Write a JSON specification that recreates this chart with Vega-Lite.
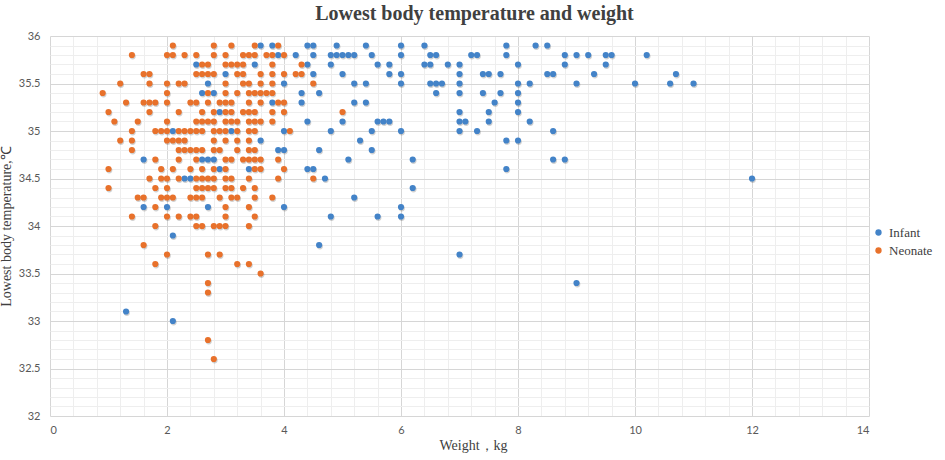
{
  "$schema": "https://vega.github.io/schema/vega-lite/v6.json",
  "description": "Lowest body temperature and weight",
  "autosize": "none",
  "width": 819,
  "height": 380,
  "padding": {"left": 50, "top": 36, "right": 76, "bottom": 44},
  "background": "white",
  "title": {
    "text": "Lowest body temperature and weight",
    "font": "Liberation Serif",
    "fontSize": 20,
    "fontWeight": "bold",
    "color": "#404040",
    "anchor": "middle",
    "dx": 15,
    "offset": 6
  },
  "datasets": {
    "points": [
      {"weight": 3.6, "temp": 35.9, "group": "Infant"},
      {"weight": 3.8, "temp": 35.9, "group": "Infant"},
      {"weight": 4.4, "temp": 35.9, "group": "Infant"},
      {"weight": 4.5, "temp": 35.9, "group": "Infant"},
      {"weight": 4.9, "temp": 35.9, "group": "Infant"},
      {"weight": 5.4, "temp": 35.9, "group": "Infant"},
      {"weight": 6.0, "temp": 35.9, "group": "Infant"},
      {"weight": 6.4, "temp": 35.9, "group": "Infant"},
      {"weight": 7.8, "temp": 35.9, "group": "Infant"},
      {"weight": 8.3, "temp": 35.9, "group": "Infant"},
      {"weight": 8.5, "temp": 35.9, "group": "Infant"},
      {"weight": 3.9, "temp": 35.8, "group": "Infant"},
      {"weight": 4.2, "temp": 35.8, "group": "Infant"},
      {"weight": 4.5, "temp": 35.8, "group": "Infant"},
      {"weight": 4.8, "temp": 35.8, "group": "Infant"},
      {"weight": 4.9, "temp": 35.8, "group": "Infant"},
      {"weight": 5.0, "temp": 35.8, "group": "Infant"},
      {"weight": 5.1, "temp": 35.8, "group": "Infant"},
      {"weight": 5.2, "temp": 35.8, "group": "Infant"},
      {"weight": 5.5, "temp": 35.8, "group": "Infant"},
      {"weight": 6.0, "temp": 35.8, "group": "Infant"},
      {"weight": 6.5, "temp": 35.8, "group": "Infant"},
      {"weight": 6.6, "temp": 35.8, "group": "Infant"},
      {"weight": 7.2, "temp": 35.8, "group": "Infant"},
      {"weight": 7.3, "temp": 35.8, "group": "Infant"},
      {"weight": 7.8, "temp": 35.8, "group": "Infant"},
      {"weight": 8.8, "temp": 35.8, "group": "Infant"},
      {"weight": 9.0, "temp": 35.8, "group": "Infant"},
      {"weight": 9.2, "temp": 35.8, "group": "Infant"},
      {"weight": 9.5, "temp": 35.8, "group": "Infant"},
      {"weight": 9.6, "temp": 35.8, "group": "Infant"},
      {"weight": 10.2, "temp": 35.8, "group": "Infant"},
      {"weight": 2.5, "temp": 35.7, "group": "Infant"},
      {"weight": 3.5, "temp": 35.7, "group": "Infant"},
      {"weight": 4.4, "temp": 35.7, "group": "Infant"},
      {"weight": 4.8, "temp": 35.7, "group": "Infant"},
      {"weight": 5.6, "temp": 35.7, "group": "Infant"},
      {"weight": 5.8, "temp": 35.7, "group": "Infant"},
      {"weight": 6.4, "temp": 35.7, "group": "Infant"},
      {"weight": 6.5, "temp": 35.7, "group": "Infant"},
      {"weight": 6.8, "temp": 35.7, "group": "Infant"},
      {"weight": 7.0, "temp": 35.7, "group": "Infant"},
      {"weight": 8.0, "temp": 35.7, "group": "Infant"},
      {"weight": 8.8, "temp": 35.7, "group": "Infant"},
      {"weight": 9.5, "temp": 35.7, "group": "Infant"},
      {"weight": 3.0, "temp": 35.6, "group": "Infant"},
      {"weight": 4.5, "temp": 35.6, "group": "Infant"},
      {"weight": 5.0, "temp": 35.6, "group": "Infant"},
      {"weight": 5.8, "temp": 35.6, "group": "Infant"},
      {"weight": 6.0, "temp": 35.6, "group": "Infant"},
      {"weight": 7.0, "temp": 35.6, "group": "Infant"},
      {"weight": 7.4, "temp": 35.6, "group": "Infant"},
      {"weight": 7.5, "temp": 35.6, "group": "Infant"},
      {"weight": 7.7, "temp": 35.6, "group": "Infant"},
      {"weight": 8.5, "temp": 35.6, "group": "Infant"},
      {"weight": 8.6, "temp": 35.6, "group": "Infant"},
      {"weight": 9.3, "temp": 35.6, "group": "Infant"},
      {"weight": 10.7, "temp": 35.6, "group": "Infant"},
      {"weight": 2.7, "temp": 35.5, "group": "Infant"},
      {"weight": 4.0, "temp": 35.5, "group": "Infant"},
      {"weight": 5.2, "temp": 35.5, "group": "Infant"},
      {"weight": 5.4, "temp": 35.5, "group": "Infant"},
      {"weight": 6.0, "temp": 35.5, "group": "Infant"},
      {"weight": 6.5, "temp": 35.5, "group": "Infant"},
      {"weight": 6.6, "temp": 35.5, "group": "Infant"},
      {"weight": 6.7, "temp": 35.5, "group": "Infant"},
      {"weight": 7.0, "temp": 35.5, "group": "Infant"},
      {"weight": 8.0, "temp": 35.5, "group": "Infant"},
      {"weight": 8.2, "temp": 35.5, "group": "Infant"},
      {"weight": 9.0, "temp": 35.5, "group": "Infant"},
      {"weight": 10.0, "temp": 35.5, "group": "Infant"},
      {"weight": 10.6, "temp": 35.5, "group": "Infant"},
      {"weight": 11.0, "temp": 35.5, "group": "Infant"},
      {"weight": 2.6, "temp": 35.4, "group": "Infant"},
      {"weight": 2.8, "temp": 35.4, "group": "Infant"},
      {"weight": 4.3, "temp": 35.4, "group": "Infant"},
      {"weight": 4.6, "temp": 35.4, "group": "Infant"},
      {"weight": 6.6, "temp": 35.4, "group": "Infant"},
      {"weight": 7.0, "temp": 35.4, "group": "Infant"},
      {"weight": 7.4, "temp": 35.4, "group": "Infant"},
      {"weight": 7.7, "temp": 35.4, "group": "Infant"},
      {"weight": 8.0, "temp": 35.4, "group": "Infant"},
      {"weight": 3.8, "temp": 35.3, "group": "Infant"},
      {"weight": 4.3, "temp": 35.3, "group": "Infant"},
      {"weight": 5.2, "temp": 35.3, "group": "Infant"},
      {"weight": 5.4, "temp": 35.3, "group": "Infant"},
      {"weight": 7.6, "temp": 35.3, "group": "Infant"},
      {"weight": 8.0, "temp": 35.3, "group": "Infant"},
      {"weight": 2.9, "temp": 35.2, "group": "Infant"},
      {"weight": 7.0, "temp": 35.2, "group": "Infant"},
      {"weight": 7.5, "temp": 35.2, "group": "Infant"},
      {"weight": 8.0, "temp": 35.2, "group": "Infant"},
      {"weight": 4.4, "temp": 35.1, "group": "Infant"},
      {"weight": 5.0, "temp": 35.1, "group": "Infant"},
      {"weight": 5.6, "temp": 35.1, "group": "Infant"},
      {"weight": 5.7, "temp": 35.1, "group": "Infant"},
      {"weight": 5.8, "temp": 35.1, "group": "Infant"},
      {"weight": 7.0, "temp": 35.1, "group": "Infant"},
      {"weight": 7.1, "temp": 35.1, "group": "Infant"},
      {"weight": 7.5, "temp": 35.1, "group": "Infant"},
      {"weight": 8.2, "temp": 35.1, "group": "Infant"},
      {"weight": 2.1, "temp": 35.0, "group": "Infant"},
      {"weight": 3.1, "temp": 35.0, "group": "Infant"},
      {"weight": 4.0, "temp": 35.0, "group": "Infant"},
      {"weight": 4.8, "temp": 35.0, "group": "Infant"},
      {"weight": 5.5, "temp": 35.0, "group": "Infant"},
      {"weight": 6.0, "temp": 35.0, "group": "Infant"},
      {"weight": 7.0, "temp": 35.0, "group": "Infant"},
      {"weight": 7.3, "temp": 35.0, "group": "Infant"},
      {"weight": 8.6, "temp": 35.0, "group": "Infant"},
      {"weight": 3.6, "temp": 34.9, "group": "Infant"},
      {"weight": 5.3, "temp": 34.9, "group": "Infant"},
      {"weight": 7.8, "temp": 34.9, "group": "Infant"},
      {"weight": 8.0, "temp": 34.9, "group": "Infant"},
      {"weight": 3.9, "temp": 34.8, "group": "Infant"},
      {"weight": 4.0, "temp": 34.8, "group": "Infant"},
      {"weight": 4.6, "temp": 34.8, "group": "Infant"},
      {"weight": 5.5, "temp": 34.8, "group": "Infant"},
      {"weight": 1.6, "temp": 34.7, "group": "Infant"},
      {"weight": 2.6, "temp": 34.7, "group": "Infant"},
      {"weight": 2.7, "temp": 34.7, "group": "Infant"},
      {"weight": 2.8, "temp": 34.7, "group": "Infant"},
      {"weight": 5.1, "temp": 34.7, "group": "Infant"},
      {"weight": 6.2, "temp": 34.7, "group": "Infant"},
      {"weight": 8.6, "temp": 34.7, "group": "Infant"},
      {"weight": 8.8, "temp": 34.7, "group": "Infant"},
      {"weight": 2.9, "temp": 34.6, "group": "Infant"},
      {"weight": 3.4, "temp": 34.6, "group": "Infant"},
      {"weight": 4.4, "temp": 34.6, "group": "Infant"},
      {"weight": 4.5, "temp": 34.6, "group": "Infant"},
      {"weight": 7.8, "temp": 34.6, "group": "Infant"},
      {"weight": 2.3, "temp": 34.5, "group": "Infant"},
      {"weight": 2.4, "temp": 34.5, "group": "Infant"},
      {"weight": 4.7, "temp": 34.5, "group": "Infant"},
      {"weight": 12.0, "temp": 34.5, "group": "Infant"},
      {"weight": 6.2, "temp": 34.4, "group": "Infant"},
      {"weight": 5.2, "temp": 34.3, "group": "Infant"},
      {"weight": 1.6, "temp": 34.2, "group": "Infant"},
      {"weight": 2.0, "temp": 34.2, "group": "Infant"},
      {"weight": 2.7, "temp": 34.2, "group": "Infant"},
      {"weight": 4.0, "temp": 34.2, "group": "Infant"},
      {"weight": 6.0, "temp": 34.2, "group": "Infant"},
      {"weight": 4.8, "temp": 34.1, "group": "Infant"},
      {"weight": 5.6, "temp": 34.1, "group": "Infant"},
      {"weight": 6.0, "temp": 34.1, "group": "Infant"},
      {"weight": 2.1, "temp": 33.9, "group": "Infant"},
      {"weight": 4.6, "temp": 33.8, "group": "Infant"},
      {"weight": 7.0, "temp": 33.7, "group": "Infant"},
      {"weight": 9.0, "temp": 33.4, "group": "Infant"},
      {"weight": 1.3, "temp": 33.1, "group": "Infant"},
      {"weight": 2.1, "temp": 33.0, "group": "Infant"},
      {"weight": 2.1, "temp": 35.9, "group": "Neonate"},
      {"weight": 2.8, "temp": 35.9, "group": "Neonate"},
      {"weight": 3.1, "temp": 35.9, "group": "Neonate"},
      {"weight": 3.5, "temp": 35.9, "group": "Neonate"},
      {"weight": 3.9, "temp": 35.9, "group": "Neonate"},
      {"weight": 1.4, "temp": 35.8, "group": "Neonate"},
      {"weight": 2.0, "temp": 35.8, "group": "Neonate"},
      {"weight": 2.1, "temp": 35.8, "group": "Neonate"},
      {"weight": 2.3, "temp": 35.8, "group": "Neonate"},
      {"weight": 2.5, "temp": 35.8, "group": "Neonate"},
      {"weight": 2.8, "temp": 35.8, "group": "Neonate"},
      {"weight": 3.0, "temp": 35.8, "group": "Neonate"},
      {"weight": 3.3, "temp": 35.8, "group": "Neonate"},
      {"weight": 3.4, "temp": 35.8, "group": "Neonate"},
      {"weight": 3.5, "temp": 35.8, "group": "Neonate"},
      {"weight": 3.7, "temp": 35.8, "group": "Neonate"},
      {"weight": 3.8, "temp": 35.8, "group": "Neonate"},
      {"weight": 4.0, "temp": 35.8, "group": "Neonate"},
      {"weight": 2.6, "temp": 35.7, "group": "Neonate"},
      {"weight": 2.7, "temp": 35.7, "group": "Neonate"},
      {"weight": 3.0, "temp": 35.7, "group": "Neonate"},
      {"weight": 3.1, "temp": 35.7, "group": "Neonate"},
      {"weight": 3.2, "temp": 35.7, "group": "Neonate"},
      {"weight": 3.3, "temp": 35.7, "group": "Neonate"},
      {"weight": 3.8, "temp": 35.7, "group": "Neonate"},
      {"weight": 4.3, "temp": 35.7, "group": "Neonate"},
      {"weight": 1.6, "temp": 35.6, "group": "Neonate"},
      {"weight": 1.7, "temp": 35.6, "group": "Neonate"},
      {"weight": 2.5, "temp": 35.6, "group": "Neonate"},
      {"weight": 2.6, "temp": 35.6, "group": "Neonate"},
      {"weight": 2.7, "temp": 35.6, "group": "Neonate"},
      {"weight": 2.8, "temp": 35.6, "group": "Neonate"},
      {"weight": 3.2, "temp": 35.6, "group": "Neonate"},
      {"weight": 3.3, "temp": 35.6, "group": "Neonate"},
      {"weight": 3.6, "temp": 35.6, "group": "Neonate"},
      {"weight": 3.8, "temp": 35.6, "group": "Neonate"},
      {"weight": 4.0, "temp": 35.6, "group": "Neonate"},
      {"weight": 4.2, "temp": 35.6, "group": "Neonate"},
      {"weight": 4.3, "temp": 35.6, "group": "Neonate"},
      {"weight": 1.2, "temp": 35.5, "group": "Neonate"},
      {"weight": 1.7, "temp": 35.5, "group": "Neonate"},
      {"weight": 2.0, "temp": 35.5, "group": "Neonate"},
      {"weight": 2.2, "temp": 35.5, "group": "Neonate"},
      {"weight": 2.3, "temp": 35.5, "group": "Neonate"},
      {"weight": 3.0, "temp": 35.5, "group": "Neonate"},
      {"weight": 3.3, "temp": 35.5, "group": "Neonate"},
      {"weight": 3.4, "temp": 35.5, "group": "Neonate"},
      {"weight": 3.6, "temp": 35.5, "group": "Neonate"},
      {"weight": 3.8, "temp": 35.5, "group": "Neonate"},
      {"weight": 4.5, "temp": 35.5, "group": "Neonate"},
      {"weight": 0.9, "temp": 35.4, "group": "Neonate"},
      {"weight": 2.0, "temp": 35.4, "group": "Neonate"},
      {"weight": 2.7, "temp": 35.4, "group": "Neonate"},
      {"weight": 3.0, "temp": 35.4, "group": "Neonate"},
      {"weight": 3.2, "temp": 35.4, "group": "Neonate"},
      {"weight": 3.4, "temp": 35.4, "group": "Neonate"},
      {"weight": 3.5, "temp": 35.4, "group": "Neonate"},
      {"weight": 3.6, "temp": 35.4, "group": "Neonate"},
      {"weight": 3.7, "temp": 35.4, "group": "Neonate"},
      {"weight": 3.8, "temp": 35.4, "group": "Neonate"},
      {"weight": 1.3, "temp": 35.3, "group": "Neonate"},
      {"weight": 1.6, "temp": 35.3, "group": "Neonate"},
      {"weight": 1.7, "temp": 35.3, "group": "Neonate"},
      {"weight": 1.8, "temp": 35.3, "group": "Neonate"},
      {"weight": 2.0, "temp": 35.3, "group": "Neonate"},
      {"weight": 2.4, "temp": 35.3, "group": "Neonate"},
      {"weight": 2.5, "temp": 35.3, "group": "Neonate"},
      {"weight": 2.7, "temp": 35.3, "group": "Neonate"},
      {"weight": 2.9, "temp": 35.3, "group": "Neonate"},
      {"weight": 3.0, "temp": 35.3, "group": "Neonate"},
      {"weight": 3.1, "temp": 35.3, "group": "Neonate"},
      {"weight": 3.4, "temp": 35.3, "group": "Neonate"},
      {"weight": 3.6, "temp": 35.3, "group": "Neonate"},
      {"weight": 3.9, "temp": 35.3, "group": "Neonate"},
      {"weight": 4.0, "temp": 35.3, "group": "Neonate"},
      {"weight": 1.0, "temp": 35.2, "group": "Neonate"},
      {"weight": 1.7, "temp": 35.2, "group": "Neonate"},
      {"weight": 2.2, "temp": 35.2, "group": "Neonate"},
      {"weight": 2.6, "temp": 35.2, "group": "Neonate"},
      {"weight": 2.8, "temp": 35.2, "group": "Neonate"},
      {"weight": 3.0, "temp": 35.2, "group": "Neonate"},
      {"weight": 3.1, "temp": 35.2, "group": "Neonate"},
      {"weight": 3.3, "temp": 35.2, "group": "Neonate"},
      {"weight": 3.4, "temp": 35.2, "group": "Neonate"},
      {"weight": 3.5, "temp": 35.2, "group": "Neonate"},
      {"weight": 3.8, "temp": 35.2, "group": "Neonate"},
      {"weight": 4.0, "temp": 35.2, "group": "Neonate"},
      {"weight": 5.0, "temp": 35.2, "group": "Neonate"},
      {"weight": 1.1, "temp": 35.1, "group": "Neonate"},
      {"weight": 1.5, "temp": 35.1, "group": "Neonate"},
      {"weight": 2.0, "temp": 35.1, "group": "Neonate"},
      {"weight": 2.5, "temp": 35.1, "group": "Neonate"},
      {"weight": 2.6, "temp": 35.1, "group": "Neonate"},
      {"weight": 2.7, "temp": 35.1, "group": "Neonate"},
      {"weight": 2.8, "temp": 35.1, "group": "Neonate"},
      {"weight": 3.0, "temp": 35.1, "group": "Neonate"},
      {"weight": 3.1, "temp": 35.1, "group": "Neonate"},
      {"weight": 3.2, "temp": 35.1, "group": "Neonate"},
      {"weight": 3.4, "temp": 35.1, "group": "Neonate"},
      {"weight": 3.5, "temp": 35.1, "group": "Neonate"},
      {"weight": 3.6, "temp": 35.1, "group": "Neonate"},
      {"weight": 3.8, "temp": 35.1, "group": "Neonate"},
      {"weight": 1.4, "temp": 35.0, "group": "Neonate"},
      {"weight": 1.8, "temp": 35.0, "group": "Neonate"},
      {"weight": 1.9, "temp": 35.0, "group": "Neonate"},
      {"weight": 2.0, "temp": 35.0, "group": "Neonate"},
      {"weight": 2.2, "temp": 35.0, "group": "Neonate"},
      {"weight": 2.3, "temp": 35.0, "group": "Neonate"},
      {"weight": 2.4, "temp": 35.0, "group": "Neonate"},
      {"weight": 2.5, "temp": 35.0, "group": "Neonate"},
      {"weight": 2.6, "temp": 35.0, "group": "Neonate"},
      {"weight": 2.8, "temp": 35.0, "group": "Neonate"},
      {"weight": 2.9, "temp": 35.0, "group": "Neonate"},
      {"weight": 3.0, "temp": 35.0, "group": "Neonate"},
      {"weight": 3.2, "temp": 35.0, "group": "Neonate"},
      {"weight": 3.4, "temp": 35.0, "group": "Neonate"},
      {"weight": 3.5, "temp": 35.0, "group": "Neonate"},
      {"weight": 4.1, "temp": 35.0, "group": "Neonate"},
      {"weight": 1.2, "temp": 34.9, "group": "Neonate"},
      {"weight": 1.4, "temp": 34.9, "group": "Neonate"},
      {"weight": 2.0, "temp": 34.9, "group": "Neonate"},
      {"weight": 2.1, "temp": 34.9, "group": "Neonate"},
      {"weight": 2.2, "temp": 34.9, "group": "Neonate"},
      {"weight": 2.3, "temp": 34.9, "group": "Neonate"},
      {"weight": 2.8, "temp": 34.9, "group": "Neonate"},
      {"weight": 3.0, "temp": 34.9, "group": "Neonate"},
      {"weight": 3.2, "temp": 34.9, "group": "Neonate"},
      {"weight": 3.4, "temp": 34.9, "group": "Neonate"},
      {"weight": 1.4, "temp": 34.8, "group": "Neonate"},
      {"weight": 2.2, "temp": 34.8, "group": "Neonate"},
      {"weight": 2.3, "temp": 34.8, "group": "Neonate"},
      {"weight": 2.4, "temp": 34.8, "group": "Neonate"},
      {"weight": 2.5, "temp": 34.8, "group": "Neonate"},
      {"weight": 2.6, "temp": 34.8, "group": "Neonate"},
      {"weight": 2.8, "temp": 34.8, "group": "Neonate"},
      {"weight": 2.9, "temp": 34.8, "group": "Neonate"},
      {"weight": 3.2, "temp": 34.8, "group": "Neonate"},
      {"weight": 3.4, "temp": 34.8, "group": "Neonate"},
      {"weight": 3.5, "temp": 34.8, "group": "Neonate"},
      {"weight": 1.8, "temp": 34.7, "group": "Neonate"},
      {"weight": 2.2, "temp": 34.7, "group": "Neonate"},
      {"weight": 2.5, "temp": 34.7, "group": "Neonate"},
      {"weight": 3.0, "temp": 34.7, "group": "Neonate"},
      {"weight": 3.1, "temp": 34.7, "group": "Neonate"},
      {"weight": 3.3, "temp": 34.7, "group": "Neonate"},
      {"weight": 3.4, "temp": 34.7, "group": "Neonate"},
      {"weight": 3.5, "temp": 34.7, "group": "Neonate"},
      {"weight": 3.6, "temp": 34.7, "group": "Neonate"},
      {"weight": 3.9, "temp": 34.7, "group": "Neonate"},
      {"weight": 1.0, "temp": 34.6, "group": "Neonate"},
      {"weight": 1.9, "temp": 34.6, "group": "Neonate"},
      {"weight": 2.1, "temp": 34.6, "group": "Neonate"},
      {"weight": 2.4, "temp": 34.6, "group": "Neonate"},
      {"weight": 2.6, "temp": 34.6, "group": "Neonate"},
      {"weight": 2.8, "temp": 34.6, "group": "Neonate"},
      {"weight": 3.0, "temp": 34.6, "group": "Neonate"},
      {"weight": 3.5, "temp": 34.6, "group": "Neonate"},
      {"weight": 3.6, "temp": 34.6, "group": "Neonate"},
      {"weight": 4.0, "temp": 34.6, "group": "Neonate"},
      {"weight": 1.7, "temp": 34.5, "group": "Neonate"},
      {"weight": 1.9, "temp": 34.5, "group": "Neonate"},
      {"weight": 2.0, "temp": 34.5, "group": "Neonate"},
      {"weight": 2.2, "temp": 34.5, "group": "Neonate"},
      {"weight": 2.5, "temp": 34.5, "group": "Neonate"},
      {"weight": 2.6, "temp": 34.5, "group": "Neonate"},
      {"weight": 2.7, "temp": 34.5, "group": "Neonate"},
      {"weight": 2.8, "temp": 34.5, "group": "Neonate"},
      {"weight": 3.0, "temp": 34.5, "group": "Neonate"},
      {"weight": 3.1, "temp": 34.5, "group": "Neonate"},
      {"weight": 3.4, "temp": 34.5, "group": "Neonate"},
      {"weight": 3.9, "temp": 34.5, "group": "Neonate"},
      {"weight": 4.5, "temp": 34.5, "group": "Neonate"},
      {"weight": 1.0, "temp": 34.4, "group": "Neonate"},
      {"weight": 1.8, "temp": 34.4, "group": "Neonate"},
      {"weight": 2.0, "temp": 34.4, "group": "Neonate"},
      {"weight": 2.5, "temp": 34.4, "group": "Neonate"},
      {"weight": 2.6, "temp": 34.4, "group": "Neonate"},
      {"weight": 2.7, "temp": 34.4, "group": "Neonate"},
      {"weight": 2.8, "temp": 34.4, "group": "Neonate"},
      {"weight": 3.0, "temp": 34.4, "group": "Neonate"},
      {"weight": 3.1, "temp": 34.4, "group": "Neonate"},
      {"weight": 3.3, "temp": 34.4, "group": "Neonate"},
      {"weight": 3.5, "temp": 34.4, "group": "Neonate"},
      {"weight": 1.5, "temp": 34.3, "group": "Neonate"},
      {"weight": 1.6, "temp": 34.3, "group": "Neonate"},
      {"weight": 1.9, "temp": 34.3, "group": "Neonate"},
      {"weight": 2.0, "temp": 34.3, "group": "Neonate"},
      {"weight": 2.1, "temp": 34.3, "group": "Neonate"},
      {"weight": 2.4, "temp": 34.3, "group": "Neonate"},
      {"weight": 2.5, "temp": 34.3, "group": "Neonate"},
      {"weight": 2.6, "temp": 34.3, "group": "Neonate"},
      {"weight": 2.9, "temp": 34.3, "group": "Neonate"},
      {"weight": 3.1, "temp": 34.3, "group": "Neonate"},
      {"weight": 3.2, "temp": 34.3, "group": "Neonate"},
      {"weight": 3.5, "temp": 34.3, "group": "Neonate"},
      {"weight": 3.8, "temp": 34.3, "group": "Neonate"},
      {"weight": 1.8, "temp": 34.2, "group": "Neonate"},
      {"weight": 3.0, "temp": 34.2, "group": "Neonate"},
      {"weight": 3.4, "temp": 34.2, "group": "Neonate"},
      {"weight": 1.4, "temp": 34.1, "group": "Neonate"},
      {"weight": 2.0, "temp": 34.1, "group": "Neonate"},
      {"weight": 2.2, "temp": 34.1, "group": "Neonate"},
      {"weight": 2.4, "temp": 34.1, "group": "Neonate"},
      {"weight": 2.5, "temp": 34.1, "group": "Neonate"},
      {"weight": 3.0, "temp": 34.1, "group": "Neonate"},
      {"weight": 3.5, "temp": 34.1, "group": "Neonate"},
      {"weight": 1.8, "temp": 34.0, "group": "Neonate"},
      {"weight": 2.5, "temp": 34.0, "group": "Neonate"},
      {"weight": 2.6, "temp": 34.0, "group": "Neonate"},
      {"weight": 2.8, "temp": 34.0, "group": "Neonate"},
      {"weight": 2.9, "temp": 34.0, "group": "Neonate"},
      {"weight": 3.0, "temp": 34.0, "group": "Neonate"},
      {"weight": 3.4, "temp": 34.0, "group": "Neonate"},
      {"weight": 1.6, "temp": 33.8, "group": "Neonate"},
      {"weight": 2.0, "temp": 33.7, "group": "Neonate"},
      {"weight": 2.7, "temp": 33.7, "group": "Neonate"},
      {"weight": 2.9, "temp": 33.7, "group": "Neonate"},
      {"weight": 1.8, "temp": 33.6, "group": "Neonate"},
      {"weight": 3.2, "temp": 33.6, "group": "Neonate"},
      {"weight": 3.4, "temp": 33.6, "group": "Neonate"},
      {"weight": 3.6, "temp": 33.5, "group": "Neonate"},
      {"weight": 2.7, "temp": 33.4, "group": "Neonate"},
      {"weight": 2.7, "temp": 33.3, "group": "Neonate"},
      {"weight": 2.7, "temp": 32.8, "group": "Neonate"},
      {"weight": 2.8, "temp": 32.6, "group": "Neonate"}
    ]
  },
  "data": {"name": "points"},
  "encoding": {
    "x": {
      "field": "weight",
      "type": "quantitative",
      "title": "Weight，kg",
      "scale": {"domain": [0, 14], "nice": false, "zero": false},
      "axis": {
        "values": [0, 0.4, 0.8, 1.2, 1.6, 2, 2.4, 2.8, 3.2, 3.6, 4, 4.4, 4.8, 5.2, 5.6, 6, 6.4, 6.8, 7.2, 7.6, 8, 8.4, 8.8, 9.2, 9.6, 10, 10.4, 10.8, 11.2, 11.6, 12, 12.4, 12.8, 13.2, 13.6, 14],
        "labelExpr": "datum.value % 2 === 0 ? format(datum.value, 'd') : ''",
        "gridColor": {"condition": {"test": "datum.value % 2 === 0", "value": "#d6d6d6"}, "value": "#eeeeee"},
        "titleX": 423,
        "titlePadding": 3
      }
    },
    "y": {
      "field": "temp",
      "type": "quantitative",
      "title": "Lowest body temperature,℃",
      "scale": {"domain": [32, 36], "nice": false, "zero": false},
      "axis": {
        "values": [32, 32.1, 32.2, 32.3, 32.4, 32.5, 32.6, 32.7, 32.8, 32.9, 33, 33.1, 33.2, 33.3, 33.4, 33.5, 33.6, 33.7, 33.8, 33.9, 34, 34.1, 34.2, 34.3, 34.4, 34.5, 34.6, 34.7, 34.8, 34.9, 35, 35.1, 35.2, 35.3, 35.4, 35.5, 35.6, 35.7, 35.8, 35.9, 36],
        "labelExpr": "abs(datum.value * 2 - round(datum.value * 2)) < 0.001 ? format(datum.value, '~g') : ''",
        "gridColor": {"condition": {"test": "abs(datum.value * 2 - round(datum.value * 2)) < 0.001", "value": "#d6d6d6"}, "value": "#eeeeee"},
        "labelPadding": 10,
        "titlePadding": 5
      }
    }
  },
  "layer": [
    {
      "mark": {"type": "circle", "size": 38, "color": "#000000", "opacity": 0.18, "xOffset": 0.8, "yOffset": 1.3}
    },
    {
      "mark": {"type": "circle", "size": 38, "opacity": 1},
      "encoding": {
        "color": {
          "field": "group",
          "type": "nominal",
          "scale": {"domain": ["Infant", "Neonate"], "range": ["#4383c8", "#e8712b"]},
          "legend": {
            "title": null,
            "orient": "none",
            "legendX": 822,
            "legendY": 190,
            "symbolType": "circle",
            "symbolSize": 40,
            "labelFont": "Liberation Serif",
            "labelFontSize": 13,
            "labelColor": "#404040",
            "rowPadding": 4
          }
        }
      }
    }
  ],
  "config": {
    "view": {"stroke": null},
    "axis": {
      "domain": false,
      "ticks": false,
      "grid": true,
      "gridWidth": 1,
      "labelFont": "Lato",
      "labelFontSize": 11,
      "labelColor": "#595959",
      "labelPadding": 8,
      "titleFont": "Liberation Serif",
      "titleFontSize": 14,
      "titleFontWeight": "normal",
      "titleColor": "#404040"
    }
  }
}
